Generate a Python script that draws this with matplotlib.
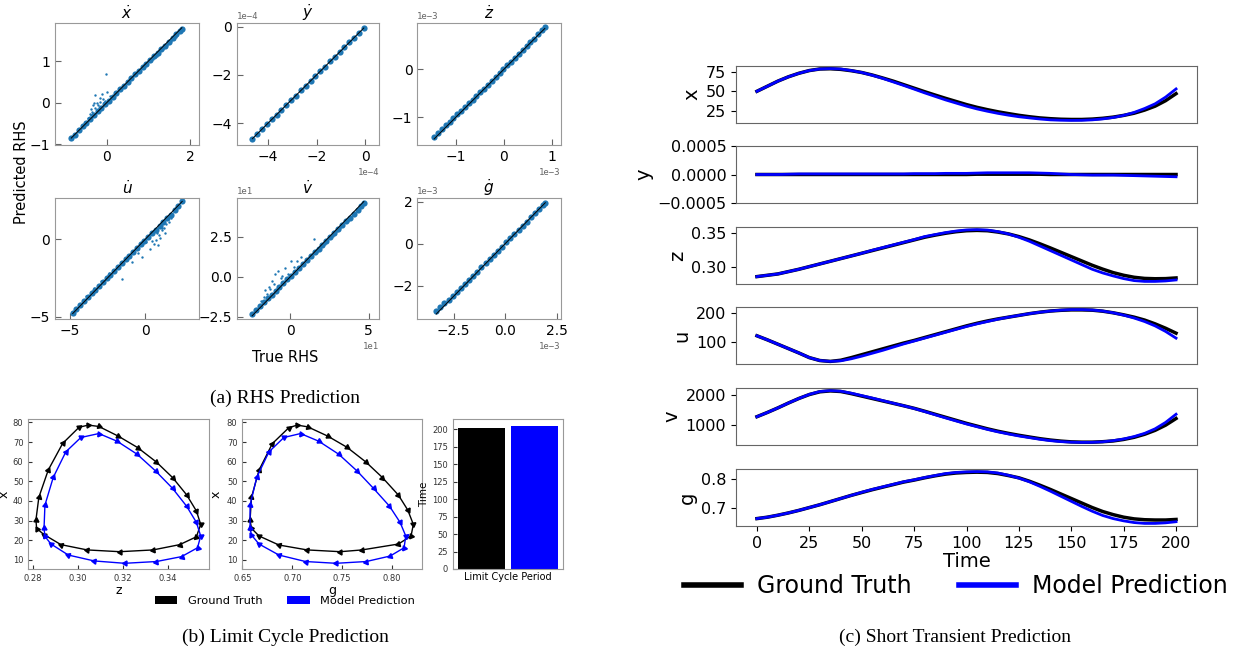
import matplotlib.pyplot as plt
import numpy as np
from matplotlib.lines import Line2D
from matplotlib.patches import Patch
from matplotlib.ticker import FuncFormatter, FormatStrFormatter

# ---------------- (a) RHS prediction: true vs predicted (in units of rhs_scale) ----------------
# the first rhs_band[i] points of each panel lie in the dense band along the diagonal,
# the remaining ones are the scattered points
rhs_titles = [r'$\dot{x}$', r'$\dot{y}$', r'$\dot{z}$', r'$\dot{u}$', r'$\dot{v}$', r'$\dot{g}$']
rhs_scale = [1, 1e-4, 1e-3, 1, 1e1, 1e-3]
rhs_band = [31, 24, 30, 30, 30, 28]

xdot_true = [-0.85, -0.76, -0.67, -0.58, -0.49, -0.40, -0.31, -0.22, -0.13, -0.04, 0.05, 0.14, 0.23, 0.32,
             0.41, 0.50, 0.59, 0.68, 0.77, 0.86, 0.95, 1.04, 1.13, 1.22, 1.31, 1.40, 1.49, 1.58, 1.67, 1.76, 1.80,
             1.10, 1.25, 1.35, 1.45, 1.55, 1.65, 1.20, 1.40, 1.60,
             -0.03, -0.27, 0.00, -0.16, -0.33, -0.37, -0.29, -0.16, -0.41, -0.23, -0.09, 0.07, -0.45, -0.35,
             -0.20, 0.10, -0.05, -0.38, -0.30, -0.12]
xdot_pred = [-0.86, -0.77, -0.66, -0.57, -0.48, -0.39, -0.30, -0.21, -0.12, -0.03, 0.05, 0.14, 0.23, 0.32,
             0.41, 0.50, 0.59, 0.68, 0.76, 0.85, 0.94, 1.02, 1.11, 1.20, 1.29, 1.37, 1.46, 1.55, 1.64, 1.73, 1.76,
             1.05, 1.19, 1.29, 1.39, 1.48, 1.58, 1.12, 1.33, 1.52,
             0.68, 0.19, 0.26, 0.02, -0.05, -0.16, -0.12, 0.10, -0.28, -0.01, 0.08, 0.15, -0.37, -0.22,
             -0.05, 0.12, 0.05, -0.30, 0.00, 0.20]

ydot_true = [-4.65, -4.45, -4.25, -4.05, -3.85, -3.65, -3.45, -3.25, -3.05, -2.85, -2.65, -2.45, -2.25, -2.05,
             -1.85, -1.65, -1.45, -1.25, -1.05, -0.85, -0.65, -0.45, -0.25, -0.05]
ydot_pred = [-4.66, -4.46, -4.24, -4.06, -3.84, -3.66, -3.44, -3.26, -3.04, -2.86, -2.64, -2.46, -2.24, -2.06,
             -1.84, -1.66, -1.44, -1.26, -1.04, -0.86, -0.64, -0.46, -0.24, -0.05]

zdot_true = [-1.45, -1.37, -1.29, -1.21, -1.13, -1.05, -0.97, -0.89, -0.81, -0.73, -0.65, -0.57, -0.49, -0.41,
             -0.33, -0.25, -0.17, -0.09, -0.01, 0.07, 0.15, 0.23, 0.31, 0.39, 0.47, 0.55, 0.63, 0.71, 0.79, 0.85]
zdot_pred = [-1.41, -1.33, -1.25, -1.17, -1.10, -1.02, -0.94, -0.87, -0.79, -0.71, -0.63, -0.55, -0.48, -0.40,
             -0.32, -0.24, -0.16, -0.08, 0.00, 0.08, 0.16, 0.24, 0.32, 0.40, 0.48, 0.56, 0.64, 0.73, 0.81, 0.88]

udot_true = [-4.8, -4.55, -4.3, -4.05, -3.8, -3.55, -3.3, -3.05, -2.8, -2.55, -2.3, -2.05, -1.8, -1.55, -1.3,
             -1.05, -0.8, -0.55, -0.3, -0.05, 0.2, 0.45, 0.7, 0.95, 1.2, 1.45, 1.7, 1.95, 2.2, 2.45,
             -3.9, -3.4, -2.9, -2.4, 0.8, 1.1, 1.4, 1.7, 2.0, 1.25, 1.55,
             -0.2, -0.9, -1.54, 0.69, 1.1, 0.82, 0.3, 0.05, 1.0, 0.6, 1.3, -0.5, 0.9, 0.45]
udot_pred = [-4.78, -4.5, -4.25, -4.0, -3.75, -3.5, -3.26, -3.01, -2.77, -2.52, -2.28, -2.03, -1.79, -1.55, -1.3,
             -1.06, -0.82, -0.57, -0.33, -0.09, 0.15, 0.39, 0.62, 0.86, 1.1, 1.35, 1.6, 1.87, 2.15, 2.45,
             -3.65, -3.15, -2.7, -2.2, 0.4, 0.7, 1.0, 1.35, 1.8, 0.7, 1.1,
             -1.12, -1.45, -2.58, -0.05, 0.6, -0.35, -0.6, -0.2, 0.1, -0.3, 0.4, -0.9, 0.3, -0.1]

vdot_true = [-2.45, -2.2, -1.95, -1.7, -1.45, -1.2, -0.95, -0.7, -0.45, -0.2, 0.05, 0.3, 0.55, 0.8, 1.05, 1.3,
             1.55, 1.8, 2.05, 2.3, 2.55, 2.8, 3.05, 3.3, 3.55, 3.8, 4.05, 4.3, 4.55, 4.7,
             2.2, 2.7, 3.2, 3.7, 1.7, 3.0,
             1.49, 0.05, -0.8, -0.97, -0.54, -1.18, -1.39, -1.5, -1.6, -0.33, 0.4, 0.7, -0.15, -1.9, -1.7, -1.3,
             -0.6, -1.05, 0.2]
vdot_pred = [-2.35, -2.1, -1.85, -1.6, -1.35, -1.12, -0.88, -0.65, -0.41, -0.17, 0.07, 0.31, 0.56, 0.8, 1.04, 1.28,
             1.52, 1.76, 2.0, 2.25, 2.49, 2.73, 2.98, 3.22, 3.46, 3.7, 3.95, 4.2, 4.45, 4.59,
             2.05, 2.55, 3.05, 3.5, 1.55, 2.85,
             2.33, 0.99, 0.37, 0.16, 0.06, -0.25, -0.66, -1.07, -0.86, 0.55, 0.99, 1.2, 0.16, -1.55, -1.3, -0.8,
             -0.1, -0.45, 0.6]

gdot_true = [-3.35, -3.15, -2.95, -2.75, -2.55, -2.35, -2.15, -1.95, -1.75, -1.55, -1.35, -1.15, -0.95, -0.75,
             -0.55, -0.35, -0.15, 0.05, 0.25, 0.45, 0.65, 0.85, 1.05, 1.25, 1.45, 1.65, 1.85, 1.95]
gdot_pred = [-3.2, -3.02, -2.84, -2.66, -2.47, -2.28, -2.09, -1.9, -1.71, -1.52, -1.33, -1.13, -0.94, -0.74,
             -0.54, -0.34, -0.14, 0.06, 0.26, 0.46, 0.66, 0.86, 1.05, 1.25, 1.45, 1.65, 1.85, 1.92]

rhs_true = [xdot_true, ydot_true, zdot_true, udot_true, vdot_true, gdot_true]
rhs_pred = [xdot_pred, ydot_pred, zdot_pred, udot_pred, vdot_pred, gdot_pred]
rhs_xticks = [[0, 2], [-4, -2, 0], [-1, 0, 1], [-5, 0], [0, 5], [-2.5, 0, 2.5]]
rhs_yticks = [[-1, 0, 1], [-4, -2, 0], [-1, 0], [-5, 0], [-2.5, 0, 2.5], [-2, 0, 2]]
rhs_xlim = [(-1.24, 2.21), (-5.3, 0.59), (-1.8, 1.18), (-5.97, 3.56), (-3.44, 5.69), (-4.27, 2.7)]
rhs_ylim = [(-1.01, 1.92), (-4.9, 0.17), (-1.57, 0.97), (-5.17, 2.69), (-2.67, 4.94), (-3.6, 2.19)]

# ---------------- (b) limit cycles ----------------
gt_cyc_z = [0.2812, 0.2825, 0.2867, 0.2931, 0.3004, 0.3045, 0.3092, 0.3178, 0.3264, 0.3348, 0.3420, 0.3482,
            0.3526, 0.3545, 0.3526, 0.3452, 0.3333, 0.3185, 0.3040, 0.2923, 0.2848, 0.2815, 0.2812]
gt_cyc_x = [30.4, 41.9, 55.8, 69.3, 77.5, 78.6, 77.9, 73.0, 67.2, 59.8, 51.9, 43.2,
            34.9, 28.1, 21.8, 17.8, 15.1, 14.2, 15.1, 17.8, 22.9, 26.0, 30.4]
pr_cyc_z = [0.2848, 0.2852, 0.2889, 0.2945, 0.3012, 0.3092, 0.3173, 0.3262, 0.3344, 0.3420, 0.3482, 0.3526,
            0.3545, 0.3531, 0.3460, 0.3348, 0.3207, 0.3071, 0.2956, 0.2879, 0.2852, 0.2848]
pr_cyc_x = [26.1, 37.9, 52.0, 65.0, 72.3, 74.3, 70.4, 63.8, 55.3, 46.4, 37.4, 29.1,
            22.2, 16.2, 11.7, 9.2, 8.3, 9.5, 12.5, 18.1, 22.0, 26.1]

gt_cyc_g = [0.6576, 0.6590, 0.6666, 0.6800, 0.6966, 0.7050, 0.7156, 0.7356, 0.7550, 0.7740, 0.7906, 0.8066,
            0.8160, 0.8216, 0.8193, 0.8066, 0.7700, 0.7483, 0.7150, 0.6866, 0.6666, 0.6590, 0.6576]
gt_cyc_xg = [30.3, 41.8, 55.7, 69.2, 77.3, 78.6, 77.7, 73.0, 67.3, 59.8, 51.9, 43.0,
             35.4, 28.1, 22.2, 18.1, 15.1, 14.2, 15.1, 17.6, 22.2, 26.1, 30.3]
pr_cyc_g = [0.6576, 0.6576, 0.6643, 0.6766, 0.6916, 0.7083, 0.7266, 0.7466, 0.7650, 0.7816, 0.7976, 0.8083,
            0.8140, 0.8123, 0.7983, 0.7743, 0.7440, 0.7133, 0.6866, 0.6666, 0.6590, 0.6576]
pr_cyc_xg = [26.4, 37.9, 52.0, 65.0, 72.3, 74.3, 70.4, 63.8, 55.3, 46.4, 37.4, 29.1,
             22.2, 16.2, 12.0, 9.2, 8.3, 9.2, 12.5, 18.1, 22.7, 26.4]

period_labels = ['Ground Truth', 'Model Prediction']
period_values = [202, 205]

# ---------------- (c) short transient ----------------
time = list(range(0, 201, 5))
x_gt = [50, 56.5, 63, 68.5, 73, 76.5, 78.5, 78.8, 78, 76.3, 74, 70.8, 67, 63, 58.5, 54, 49.5, 45.2, 41, 37, 33,
        29.5, 26.5, 23.8, 21.5, 19.3, 17.5, 16, 15, 14.3, 14, 14, 14.5, 15.5, 17, 19.2, 22, 26, 31, 38, 47]
x_pr = [50, 56.5, 63, 68.5, 73, 76.5, 78.5, 79, 78.5, 76.5, 74, 70.5, 66.5, 62, 57.5, 52.8, 48, 43.5, 39, 35, 31,
        27.5, 24.5, 21.8, 19.5, 17.5, 16, 14.6, 13.5, 13, 12.8, 12.9, 13.5, 14.7, 16.5, 19.2, 23, 28, 34, 42.5, 53]
y_gt = [0, 0, 0, 0, 0, 0, 0, 0, 0, 0, 0, 0, 0, 0, 0, 0, 0, 0, 0, 0, 0,
        0.000005, 0.000005, 0.000005, 0.000005, 0.000005, 0.000005, 0.000005, 0, 0, 0,
        0, 0, 0, 0, 0, 0, 0, 0, 0, 0]
y_pr = [0, 0, 0, 0.000005, 0.00001, 0.00001, 0.00001, 0.00001, 0.00001, 0.00001, 0.00001, 0.00001, 0.00001,
        0.00001, 0.00001, 0.000015, 0.000015, 0.000015, 0.00002, 0.00002, 0.00002, 0.000025, 0.00003, 0.00003,
        0.00003, 0.00003, 0.00003, 0.000025, 0.00002, 0.00001, 0.0, -0.000005, -0.00001, -0.00001, -0.00001,
        -0.000015, -0.00002, -0.000025, -0.00003, -0.000035, -0.00004]
z_gt = [0.285, 0.287, 0.289, 0.2925, 0.296, 0.300, 0.304, 0.308, 0.312, 0.316, 0.320, 0.324, 0.328, 0.332, 0.336,
        0.340, 0.344, 0.3472, 0.350, 0.3523, 0.3538, 0.3543, 0.3538, 0.3518, 0.349, 0.345, 0.340, 0.3342, 0.328,
        0.3215, 0.315, 0.3085, 0.302, 0.2962, 0.291, 0.287, 0.284, 0.2823, 0.2818, 0.2820, 0.283]
z_pr = [0.285, 0.287, 0.289, 0.2925, 0.296, 0.300, 0.304, 0.308, 0.312, 0.316, 0.320, 0.3245, 0.3285, 0.3325,
        0.3365, 0.3405, 0.345, 0.348, 0.351, 0.3533, 0.355, 0.3555, 0.3548, 0.3525, 0.349, 0.344, 0.338, 0.331,
        0.324, 0.317, 0.310, 0.303, 0.296, 0.2905, 0.286, 0.282, 0.279, 0.2778, 0.2778, 0.2785, 0.280]
u_gt = [121, 107, 92, 77, 62, 46, 36, 33, 37, 46, 56, 66, 76, 86, 96, 105, 115, 125, 135, 145, 155, 164, 172,
        179, 185, 191, 197, 202, 206, 208.5, 210, 210, 209, 205.5, 200, 193, 185, 175, 162, 147, 130]
u_pr = [121, 107, 92, 77, 62, 46, 36, 33, 35, 42, 51, 61, 71, 82, 93, 103, 113, 123, 133, 143, 153, 162, 170,
        178, 185, 191, 197, 202, 206, 209, 211, 211, 209.5, 206, 200, 192, 182, 170, 155, 136, 113]
v_gt = [1280, 1420, 1570, 1730, 1880, 2010, 2100, 2130, 2110, 2040, 1960, 1880, 1800, 1720, 1640, 1556, 1460,
        1360, 1260, 1160, 1060, 970, 880, 800, 730, 667, 610, 555, 510, 475, 450, 440, 440, 455, 480, 530, 600,
        700, 830, 1000, 1220]
v_pr = [1280, 1420, 1570, 1730, 1880, 2015, 2110, 2140, 2120, 2055, 1975, 1895, 1810, 1725, 1640, 1550, 1450,
        1345, 1240, 1140, 1040, 950, 860, 780, 710, 645, 590, 535, 490, 458, 440, 432, 435, 452, 490, 545, 625,
        730, 880, 1090, 1360]
g_gt = [0.661, 0.666, 0.673, 0.681, 0.690, 0.700, 0.710, 0.721, 0.732, 0.743, 0.753, 0.763, 0.772, 0.781, 0.790,
        0.797, 0.805, 0.812, 0.818, 0.822, 0.824, 0.825, 0.824, 0.820, 0.813, 0.805, 0.793, 0.779, 0.764, 0.748,
        0.732, 0.716, 0.700, 0.686, 0.675, 0.666, 0.660, 0.657, 0.656, 0.656, 0.658]
g_pr = [0.661, 0.666, 0.673, 0.681, 0.690, 0.700, 0.710, 0.721, 0.732, 0.743, 0.754, 0.764, 0.773, 0.782, 0.791,
        0.798, 0.806, 0.813, 0.820, 0.824, 0.826, 0.827, 0.826, 0.822, 0.814, 0.804, 0.791, 0.775, 0.758, 0.740,
        0.722, 0.704, 0.687, 0.672, 0.661, 0.653, 0.647, 0.644, 0.644, 0.646, 0.650]
ts_names = ['x', 'y', 'z', 'u', 'v', 'g']
ts_gt = [x_gt, y_gt, z_gt, u_gt, v_gt, g_gt]
ts_pr = [x_pr, y_pr, z_pr, u_pr, v_pr, g_pr]
ts_yticks = [[25, 50, 75], [-0.0005, 0, 0.0005], [0.30, 0.35], [100, 200], [1000, 2000], [0.7, 0.8]]

W, H = 1249, 658
fig = plt.figure(figsize=(W / 100, H / 100), dpi=100)


def rect(left, top, right, bottom):
    # pixel box -> figure fraction
    return [left / W, 1 - bottom / H, (right - left) / W, (bottom - top) / H]


SPINE = '#999999'
SERIF = 'Liberation Serif'

# ---- (a) ----
a_cols = [(55, 199), (236.7, 379.3), (417.3, 560.7)]
a_rows = [(22.7, 144.7), (197.7, 319.3)]
for i in range(6):
    r, c = divmod(i, 3)
    ax = fig.add_axes(rect(a_cols[c][0], a_rows[r][0], a_cols[c][1], a_rows[r][1]))
    s = rhs_scale[i]
    n = rhs_band[i]
    t = np.array(rhs_true[i]) * s
    p = np.array(rhs_pred[i]) * s
    ax.scatter(t[:n], p[:n], s=20, color='#1f77b4', linewidths=0, zorder=2)
    ax.scatter(t[n:], p[n:], s=3, color='#1f77b4', linewidths=0, zorder=2)
    ax.plot([t.min(), t.max()], [t.min(), t.max()], color='black', lw=0.7, zorder=3)
    ax.set_xlim(np.array(rhs_xlim[i]) * s)
    ax.set_ylim(np.array(rhs_ylim[i]) * s)
    ax.set_xticks(np.array(rhs_xticks[i]) * s)
    ax.set_yticks(np.array(rhs_yticks[i]) * s)
    ax.ticklabel_format(style='sci', scilimits=(0, 0), axis='both')
    ax.tick_params(direction='in', labelsize=10, color='#666666', length=4)
    for sp in ax.spines.values():
        sp.set_color(SPINE)
    for off in (ax.xaxis.get_offset_text(), ax.yaxis.get_offset_text()):
        off.set_fontsize(6.5)
        off.set_color('#666666')
        off.set_family('DejaVu Sans Mono')
    ax.set_title(rhs_titles[i], fontsize=11, pad=3)

fig.text(22 / W, 1 - 172 / H, 'Predicted RHS', rotation=90, ha='center', va='center', fontsize=10.5)
fig.text(285 / W, 1 - 358 / H, 'True RHS', ha='center', va='center', fontsize=10.5)
fig.text(285 / W, 1 - 398 / H, '(a) RHS Prediction', ha='center', va='center', fontsize=14, family=SERIF)


# ---- (b) ----
def draw_cycle(ax, xs, ys, color):
    xs = np.array(xs)
    ys = np.array(ys)
    ax.plot(xs, ys, color=color, lw=1)
    x0, x1 = ax.get_xlim()
    y0, y1 = ax.get_ylim()
    px = xs[:-1] / (x1 - x0) * ax.bbox.width
    py = ys[:-1] / (y1 - y0) * ax.bbox.height
    ang = np.degrees(np.arctan2(np.roll(py, -1) - np.roll(py, 1), np.roll(px, -1) - np.roll(px, 1)))
    for xv, yv, a in zip(xs[:-1], ys[:-1], ang):
        ax.plot(xv, yv, marker=(3, 0, a - 90), color=color, markersize=4.2, linestyle='none')


phase_specs = [
    ((28.3, 209), (0.2778, 0.3582), [0.28, 0.30, 0.32, 0.34], 'z', -0.096,
     gt_cyc_z, gt_cyc_x, pr_cyc_z, pr_cyc_x),
    ((242.3, 421.7), (0.6498, 0.830), [0.65, 0.70, 0.75, 0.80], 'g', -0.108,
     gt_cyc_g, gt_cyc_xg, pr_cyc_g, pr_cyc_xg),
]
for (l, rr), xl, xt, lab, lx, gx, gy, px_, py_ in phase_specs:
    ax = fig.add_axes(rect(l, 419, rr, 569))
    ax.set_xlim(xl)
    ax.set_ylim(5.4, 81.7)
    draw_cycle(ax, gx, gy, 'black')
    draw_cycle(ax, px_, py_, 'blue')
    ax.set_xticks(xt)
    ax.xaxis.set_major_formatter(FormatStrFormatter('%.2f'))
    ax.set_yticks([10, 20, 30, 40, 50, 60, 70, 80])
    ax.tick_params(direction='in', labelsize=6, labelcolor='#333333', color='#333333', length=3)
    ax.set_xlabel(lab, fontsize=9, labelpad=1)
    ax.set_ylabel('x', fontsize=9, rotation=90)
    ax.yaxis.set_label_coords(lx, 0.5)
    for sp in ax.spines.values():
        sp.set_color(SPINE)

ax = fig.add_axes(rect(453, 419, 563, 569))
ax.bar([0, 1], period_values, width=0.9, color=['black', 'blue'])
ax.set_xlim(-0.55, 1.55)
ax.set_ylim(0, 214.7)
ax.set_yticks(range(0, 201, 25))
ax.set_xticks([])
ax.set_xlabel('Limit Cycle Period', fontsize=7, labelpad=2)
ax.set_ylabel('Time', fontsize=7.5, labelpad=2)
ax.tick_params(direction='in', labelsize=6, labelcolor='#333333', color='#333333', length=3)
for sp in ax.spines.values():
    sp.set_color(SPINE)

fig.legend(handles=[Patch(facecolor='black', label=period_labels[0]),
                    Patch(facecolor='blue', label=period_labels[1])],
           loc='center', bbox_to_anchor=(285 / W, 1 - 601 / H), ncol=2, frameon=False, fontsize=8.2,
           handlelength=2.0, handletextpad=0.9, columnspacing=2.2)
fig.text(285 / W, 1 - 637 / H, '(b) Limit Cycle Prediction', ha='center', va='center', fontsize=14, family=SERIF)

# ---- (c) ----
c_rows = [(66, 123), (146, 203), (227, 284), (307, 364), (388, 445), (469, 526)]
minus_fmt = FuncFormatter(lambda v, pos: f'{v:.4f}'.replace('-', '\u2212'))
for i in range(6):
    ax = fig.add_axes(rect(736, c_rows[i][0], 1197, c_rows[i][1]))
    ax.plot(time, ts_gt[i], color='black', lw=2.5)
    ax.plot(time, ts_pr[i], color='blue', lw=2.0)
    ax.set_xlim(-10, 210)
    if ts_names[i] == 'y':
        ax.set_ylim(-0.0005, 0.0005)
        ax.yaxis.set_major_formatter(minus_fmt)
    ax.set_yticks(ts_yticks[i])
    ax.set_xticks([0, 25, 50, 75, 100, 125, 150, 175, 200])
    ax.tick_params(labelsize=11.5)
    ax.set_ylabel(ts_names[i], fontsize=14, labelpad=3)
    for sp in ax.spines.values():
        sp.set_color('#666666')
    if i < 5:
        ax.tick_params(bottom=False, labelbottom=False)
    else:
        ax.set_xlabel('Time', fontsize=14, labelpad=1)

fig.legend(handles=[Line2D([], [], color='black', lw=4, label='Ground Truth'),
                    Line2D([], [], color='blue', lw=4, label='Model Prediction')],
           loc='center', bbox_to_anchor=(956 / W, 1 - 586 / H), ncol=2, frameon=True, fancybox=False,
           edgecolor='none', facecolor='white', framealpha=1, fontsize=17,
           handlelength=2.4, handletextpad=0.7, columnspacing=2.0, borderpad=0.2)
fig.text(955 / W, 1 - 637 / H, '(c) Short Transient Prediction', ha='center', va='center', fontsize=14,
         family=SERIF)

fig.savefig('out.png', dpi=100)
